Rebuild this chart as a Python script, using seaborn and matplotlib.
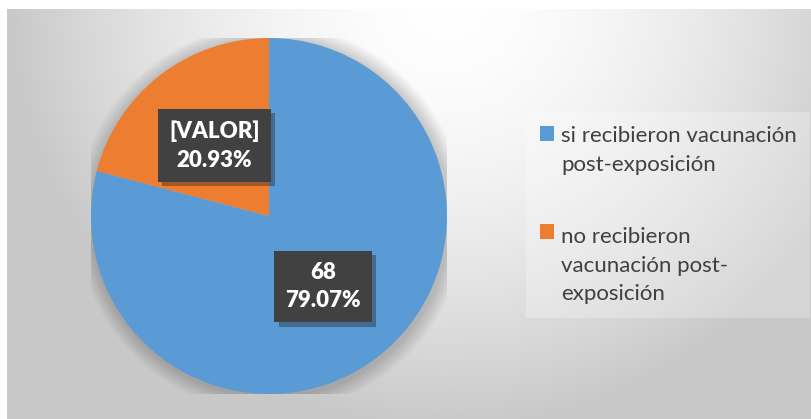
import matplotlib
matplotlib.use("Agg")

import numpy as np
import matplotlib.pyplot as plt
import matplotlib.patheffects as pe
from matplotlib.patches import Patch, Rectangle, Circle
from matplotlib.legend_handler import HandlerPatch
import seaborn as sns

# datos
categorias = ["si recibieron vacunación\npost-exposición",
              "no recibieron\nvacunación post-\nexposición"]
valores = [68, 18]
etiquetas_valor = ["68", "[VALOR]"]
colores = sns.color_palette(["#5B9BD5", "#ED7D31"])

W, H = 812, 419

sns.set_style("white")
plt.rcParams["font.family"] = ["Lato", "DejaVu Sans"]

fig = plt.figure(figsize=(W / 100, H / 100), dpi=100)
fig.patch.set_facecolor("white")

# fondo con degradado radial (estilo Excel)
bg = fig.add_axes([7 / W, 0, 1 - 7 / W, (H - 9) / H])
yy, xx = np.mgrid[0:H - 9, 0:W - 7]
d = np.sqrt(((xx - 440) / 440.0) ** 2 + ((yy + 10) / 430.0) ** 2)
d = np.clip(d, 0, 1) ** 1.7
img = 255 - (255 - 200) * d
bg.imshow(np.dstack([img, img, img]).astype(np.uint8), aspect="auto",
          interpolation="bilinear")
bg.set_axis_off()

# pastel
cx, cy, r = 269, 216, 178
ax = fig.add_axes([(cx - r) / W, (H - cy - r) / H, 2 * r / W, 2 * r / H])

for k in range(1, 9):
    ax.add_patch(Circle((0.01, -0.012), 1 + k * 0.011, facecolor="black",
                        alpha=0.025, edgecolor="none", zorder=0))

wedges, texts, autotexts = ax.pie(
    valores, colors=colores, startangle=90, counterclock=False,
    autopct="%.2f%%", pctdistance=0.5,
    wedgeprops=dict(linewidth=0),
    textprops=dict(color="white", fontsize=16, fontweight="heavy"))

for t, v in zip(autotexts, etiquetas_valor):
    t.set_text(f"{v}\n{t.get_text()}")
    t.set_linespacing(1.45)
    t.set_bbox(dict(boxstyle="square,pad=0.5", facecolor="#414141",
                    edgecolor="none"))
    t.get_bbox_patch().set_path_effects(
        [pe.SimplePatchShadow(offset=(3, -3), alpha=0.35), pe.Normal()])

ax.set_xlim(-1, 1)
ax.set_ylim(-1, 1)
ax.set_aspect("equal")
ax.set_axis_off()

LS = 1.55


class TopHandler(HandlerPatch):
    # cuadro alineado con la primera linea del texto
    def create_artists(self, legend, orig_handle, xdescent, ydescent,
                       width, height, fontsize, trans):
        n = orig_handle.get_label().count("\n") + 1
        shift = (n - 1) / 2 * fontsize * LS
        p = Rectangle((-xdescent, -ydescent + shift), width, height,
                      facecolor=orig_handle.get_facecolor(),
                      edgecolor="none", transform=trans)
        return [p]


handles = [Patch(facecolor=c, label=l) for c, l in zip(colores, categorias)]
leg = fig.legend(handles=handles, loc="upper left",
                 bbox_to_anchor=(522 / W, 1 - 108 / H),
                 frameon=True, fontsize=16, labelcolor="#404040",
                 handlelength=0.65, handleheight=0.65, handletextpad=0.3,
                 labelspacing=2.35, borderpad=0.3,
                 handler_map={Patch: TopHandler()})
for t in leg.get_texts():
    t.set_linespacing(LS)
frame = leg.get_frame()
frame.set_facecolor("white")
frame.set_alpha(0.25)
frame.set_edgecolor("none")
frame.set_boxstyle("square")

fig.savefig("out.png", dpi=100)
